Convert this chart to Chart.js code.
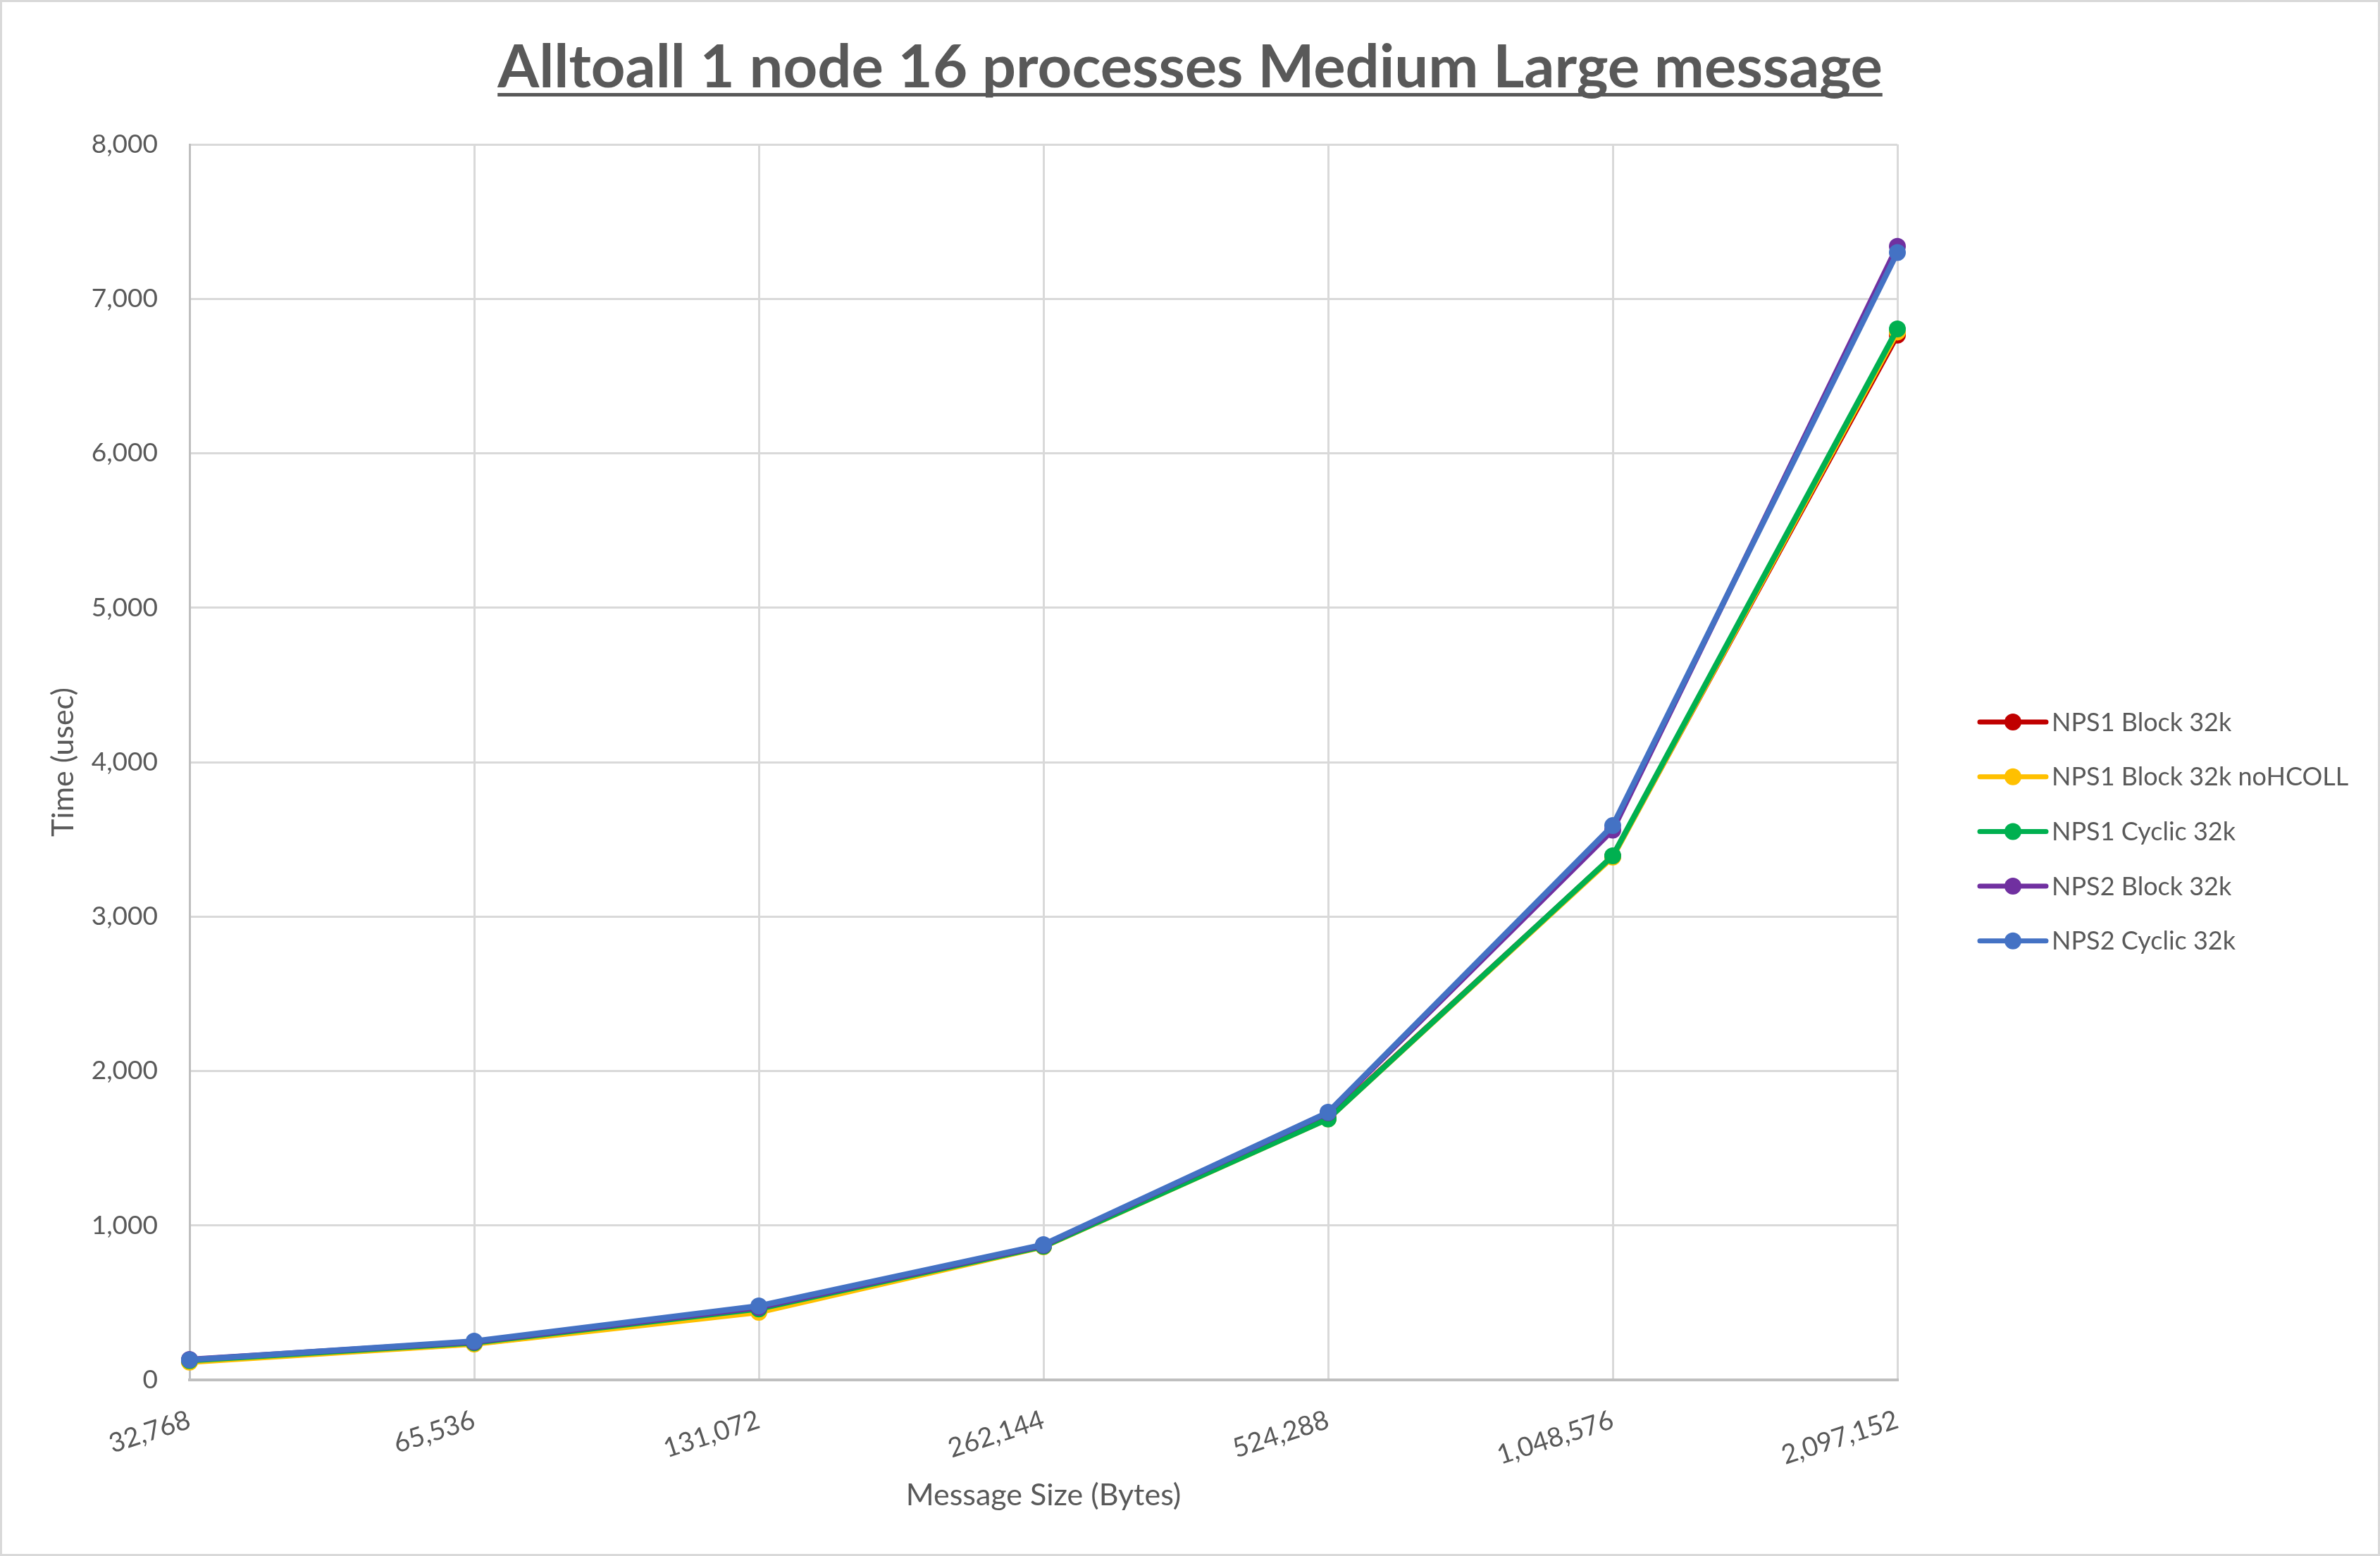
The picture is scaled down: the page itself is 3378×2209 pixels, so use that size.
<!DOCTYPE html>
<html>
<head>
<meta charset="utf-8">
<script src="https://cdn.jsdelivr.net/npm/chart.js@4.4.0/dist/chart.umd.min.js"></script>
<style>
    html, body { margin: 0; padding: 0; background: #ffffff; }
</style>
</head>
<body>
<canvas id="alltoallChart" width="3378" height="2209"></canvas>
<script>
// data (time in usec)
const messageSizes = [32768, 65536, 131072, 262144, 524288, 1048576, 2097152];
const nps1Block = [120, 235, 445, 865, 1695, 3390, 6765];
const nps1BlockNoHcoll = [115, 232, 438, 862, 1690, 3385, 6785];
const nps1Cyclic = [125, 240, 460, 865, 1690, 3393, 6805];
const nps2Block = [132, 246, 470, 872, 1730, 3560, 7340];
const nps2Cyclic = [130, 251, 479, 876, 1733, 3589, 7300];

const seriesNames = ["NPS1 Block 32k", "NPS1 Block 32k noHCOLL", "NPS1 Cyclic 32k", "NPS2 Block 32k", "NPS2 Cyclic 32k"];
const seriesData = [nps1Block, nps1BlockNoHcoll, nps1Cyclic, nps2Block, nps2Cyclic];
const seriesColors = ["#C00000", "#FFC000", "#00B050", "#7030A0", "#4472C4"];

const chartTitle = "Alltoall 1 node 16 processes Medium Large message";
const textColor = "#595959";
const fontFamily = "Lato, 'Open Sans', sans-serif";

// ðŸ”¹ title with underline, chart frame and the line+marker legend
const decorations = {
    id: "decorations",
    afterDraw(chart) {
        const ctx = chart.ctx;
        const W = chart.width, H = chart.height;
        ctx.save();

        // frame
        ctx.strokeStyle = "#d9d9d9";
        ctx.lineWidth = 3;
        ctx.strokeRect(1.5, 1.5, W - 3, H - 3);

        // title
        ctx.fillStyle = textColor;
        ctx.font = "bold 85px " + fontFamily;
        ctx.textAlign = "center";
        ctx.textBaseline = "alphabetic";
        ctx.fillText(chartTitle, W / 2, 124);
        const tw = ctx.measureText(chartTitle).width;
        ctx.fillRect(W / 2 - tw / 2, 132, tw, 5);

        // legend
        const area = chart.chartArea;
        const lx = area.right + 117;
        const ly = 1025;
        ctx.font = "36px " + fontFamily;
        ctx.textAlign = "left";
        ctx.textBaseline = "middle";
        seriesNames.forEach((name, i) => {
            const y = ly + i * 77.7;
            ctx.strokeStyle = seriesColors[i];
            ctx.lineWidth = 7;
            ctx.lineCap = "round";
            ctx.beginPath();
            ctx.moveTo(lx, y);
            ctx.lineTo(lx + 94, y);
            ctx.stroke();
            ctx.fillStyle = seriesColors[i];
            ctx.beginPath();
            ctx.arc(lx + 47, y, 12, 0, Math.PI * 2);
            ctx.fill();
            ctx.fillStyle = textColor;
            ctx.fillText(name, lx + 102, y + 1);
        });
        ctx.restore();
    }
};

const ctx = document.getElementById("alltoallChart").getContext("2d");

new Chart(ctx, {
    type: "line",
    data: {
        labels: messageSizes,
        datasets: seriesNames.map((name, i) => ({
            label: name,
            data: seriesData[i],
            borderColor: seriesColors[i],
            backgroundColor: seriesColors[i],
            borderWidth: 8,
            pointRadius: 12,
            pointHoverRadius: 12,
            pointBorderWidth: 0,
            tension: 0,
            fill: false,
            order: seriesNames.length - i
        }))
    },
    options: {
        responsive: false,
        animation: false,
        devicePixelRatio: 1,
        layout: {
            padding: { top: 205, right: 685, bottom: 0, left: 0 }
        },
        scales: {
            x: {
                offset: false,
                grid: { color: "#d9d9d9", lineWidth: 3, drawTicks: false },
                border: { color: "#bfbfbf", width: 4 },
                ticks: {
                    autoSkip: false,
                    minRotation: 18,
                    maxRotation: 18,
                    padding: 34,
                    color: textColor,
                    font: { family: fontFamily, size: 38 },
                    callback: function (value) {
                        return Number(this.getLabelForValue(value)).toLocaleString("en-US");
                    }
                },
                title: {
                    display: true,
                    text: "Message Size (Bytes)",
                    color: textColor,
                    font: { family: fontFamily, size: 43 },
                    padding: { top: 0, bottom: 60 }
                },
                afterFit(scale) { scale.height = 250; }
            },
            y: {
                min: 0,
                max: 8000,
                grid: { color: "#d9d9d9", lineWidth: 3, drawTicks: false },
                border: { color: "#bfbfbf", width: 3 },
                ticks: {
                    stepSize: 1000,
                    padding: 45,
                    color: textColor,
                    font: { family: fontFamily, size: 37 },
                    callback: v => v.toLocaleString("en-US")
                },
                title: {
                    display: true,
                    text: "Time (usec)",
                    color: textColor,
                    font: { family: fontFamily, size: 43 },
                    padding: { top: 64, bottom: 0 }
                },
                afterFit(scale) { scale.width = 269; }
            }
        },
        plugins: {
            legend: { display: false },
            title: { display: false },
            tooltip: { enabled: false }
        }
    },
    plugins: [decorations]
});
</script>
</body>
</html>
